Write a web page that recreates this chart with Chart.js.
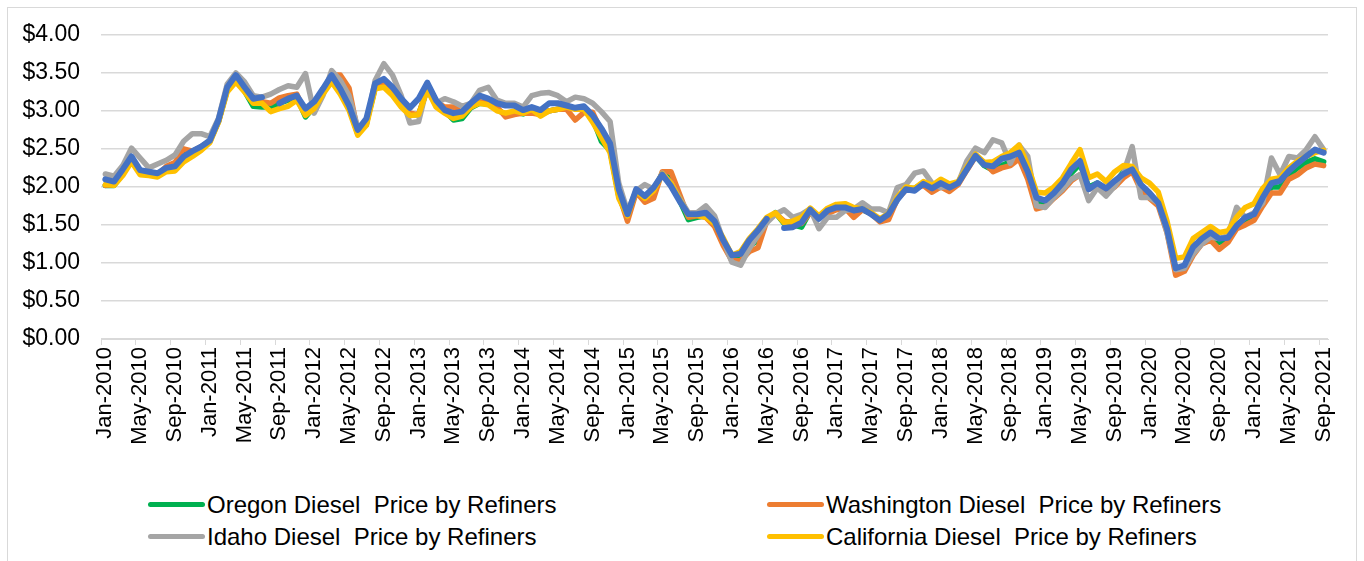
<!DOCTYPE html>
<html>
<head>
<meta charset="utf-8">
<script src="https://cdn.jsdelivr.net/npm/chart.js@4.4.1/dist/chart.umd.min.js"></script>
<style>
  body { margin: 0; background: #fff; font-family: "Liberation Sans", Arial, sans-serif; }
  #frame { position: absolute; left: 7px; top: 7px; width: 1350px; height: 560px; border: 1px solid #d9d9d9; box-sizing: border-box; }
  #wrap { position: absolute; left: 0; top: 0; width: 1364px; height: 480px; }
  #legend { position: absolute; left: 0; top: 0; }
  .item { position: absolute; height: 30px; line-height: 30px; font-size: 24px; color: #000; white-space: pre; }
  .swatch { position: absolute; left: 0; top: 12px; width: 57px; height: 5px; border-radius: 3px; }
  .item span { position: absolute; left: 59px; top: 0; }
</style>
</head>
<body>
<div id="frame"></div>
<div id="wrap"><canvas id="chart" width="1364" height="480"></canvas></div>
<div id="legend"></div>
<script>
// Months Jan-2010 .. Sep-2021
const monthNames = ['Jan', 'Feb', 'Mar', 'Apr', 'May', 'Jun', 'Jul', 'Aug', 'Sep', 'Oct', 'Nov', 'Dec'];
const years = [2010, 2011, 2012, 2013, 2014, 2015, 2016, 2017, 2018, 2019, 2020, 2021];
const lastMonth = 'Sep-2021';

const months = [];
years.forEach(y => monthNames.forEach(m => months.push(m + '-' + y)));
months.length = months.indexOf(lastMonth) + 1;

const yTicks = [0, 0.5, 1, 1.5, 2, 2.5, 3, 3.5, 4];

// Diesel prices by refiners, $/gallon
const oregon = [
  2.02, 2.02, 2.17, 2.36, 2.18, 2.16, 2.15, 2.24, 2.28, 2.42, 2.45, 2.52,
  2.60, 2.86, 3.27, 3.40, 3.26, 3.06, 3.05, 3.05, 3.10, 3.14, 3.18, 2.92,
  3.05, 3.24, 3.42, 3.25, 3.05, 2.70, 2.84, 3.30, 3.35, 3.22, 3.08, 2.95,
  2.95, 3.29, 3.07, 3.00, 2.88, 2.90, 3.04, 3.10, 3.09, 3.02, 2.95, 2.98,
  2.96, 3.00, 2.95, 3.00, 3.02, 3.06, 3.03, 3.04, 2.90, 2.60, 2.48, 1.88,
  1.60, 1.95, 1.83, 1.93, 2.18, 2.10, 1.82, 1.57, 1.60, 1.62, 1.50, 1.27,
  1.05, 1.08, 1.22, 1.30, 1.55, 1.66, 1.52, 1.50, 1.47, 1.68, 1.60, 1.70,
  1.74, 1.75, 1.65, 1.70, 1.65, 1.56, 1.62, 1.85, 1.98, 1.98, 2.05, 1.98,
  2.05, 1.98, 2.05, 2.24, 2.41, 2.28, 2.22, 2.28, 2.33, 2.42, 2.15, 1.80,
  1.80, 1.90, 2.02, 2.18, 2.30, 2.00, 2.05, 1.97, 2.05, 2.20, 2.25, 2.00,
  1.88, 1.78, 1.43, 0.90, 0.94, 1.17, 1.28, 1.35, 1.27, 1.30, 1.47, 1.57,
  1.62, 1.82, 2.00, 2.00, 2.15, 2.25, 2.32, 2.37, 2.33
];
const washington = [
  2.02, 2.03, 2.18, 2.38, 2.18, 2.17, 2.16, 2.27, 2.32, 2.50, 2.47, 2.53,
  2.60, 2.86, 3.28, 3.42, 3.28, 3.12, 3.12, 3.10, 3.17, 3.20, 3.22, 2.96,
  3.08, 3.25, 3.47, 3.47, 3.30, 2.72, 2.86, 3.32, 3.38, 3.24, 3.12, 2.97,
  2.95, 3.30, 3.12, 3.05, 3.05, 2.98, 3.05, 3.12, 3.10, 3.05, 2.92, 2.95,
  2.97, 2.97, 2.95, 3.00, 3.02, 3.02, 2.88, 2.98, 2.98, 2.73, 2.50, 1.90,
  1.55, 1.93, 1.80, 1.85, 2.20, 2.20, 1.90, 1.60, 1.62, 1.60, 1.48, 1.23,
  1.03, 1.03, 1.15, 1.20, 1.55, 1.65, 1.55, 1.53, 1.52, 1.66, 1.60, 1.65,
  1.70, 1.72, 1.60, 1.70, 1.65, 1.54, 1.57, 1.84, 1.96, 1.98, 2.02, 1.93,
  2.00, 1.94, 2.03, 2.22, 2.40, 2.32, 2.20, 2.25, 2.28, 2.37, 2.10, 1.71,
  1.74, 1.85, 1.95, 2.08, 2.16, 1.97, 2.02, 1.93, 2.00, 2.12, 2.20, 1.96,
  1.85, 1.75, 1.40, 0.84, 0.89, 1.10, 1.25, 1.30, 1.18, 1.27, 1.45, 1.50,
  1.56, 1.75, 1.92, 1.92, 2.10, 2.16, 2.25, 2.30, 2.28
];
const idaho = [
  2.17, 2.14, 2.28, 2.51, 2.38, 2.25, 2.30, 2.35, 2.42, 2.60, 2.70, 2.70,
  2.66, 2.90, 3.35, 3.50, 3.38, 3.20, 3.18, 3.22, 3.28, 3.33, 3.31, 3.49,
  2.97, 3.20, 3.53, 3.40, 3.20, 2.78, 2.82, 3.40, 3.62, 3.47, 3.20, 2.84,
  2.86, 3.33, 3.10, 3.16, 3.12, 3.06, 3.10, 3.27, 3.31, 3.14, 3.10, 3.10,
  3.05, 3.20, 3.23, 3.24, 3.20, 3.12, 3.18, 3.16, 3.10, 2.99, 2.86, 2.05,
  1.68, 1.95, 2.03, 1.97, 2.18, 2.05, 1.85, 1.66, 1.66, 1.75, 1.62, 1.30,
  1.01, 0.97, 1.19, 1.36, 1.53, 1.64, 1.70, 1.60, 1.64, 1.71, 1.45, 1.60,
  1.60, 1.69, 1.71, 1.79, 1.71, 1.71, 1.66, 1.99, 2.03, 2.18, 2.21, 2.05,
  1.99, 2.01, 2.05, 2.34, 2.51, 2.45, 2.62, 2.58, 2.31, 2.55, 2.40, 1.75,
  1.73, 1.86, 1.97, 2.10, 2.16, 1.82, 1.99, 1.88, 2.01, 2.18, 2.53, 1.86,
  1.86, 1.79, 1.40, 0.91, 0.93, 1.12, 1.25, 1.34, 1.32, 1.36, 1.73, 1.60,
  1.66, 1.79, 2.38, 2.16, 2.40, 2.38, 2.49, 2.66, 2.49
];
const california = [
  2.03, 2.02, 2.15, 2.33, 2.16, 2.15, 2.13, 2.20, 2.21, 2.33, 2.40, 2.48,
  2.58, 2.85, 3.25, 3.38, 3.25, 3.10, 3.10, 2.99, 3.03, 3.06, 3.14, 2.94,
  3.03, 3.22, 3.38, 3.22, 3.01, 2.68, 2.81, 3.29, 3.31, 3.20, 3.05, 2.94,
  2.95, 3.28, 3.05, 2.97, 2.90, 2.93, 3.05, 3.10, 3.08, 3.00, 2.97, 3.00,
  2.97, 3.02, 2.93, 3.00, 3.02, 3.05, 3.02, 3.02, 2.85, 2.65, 2.45, 1.85,
  1.62, 1.95, 1.85, 1.95, 2.17, 2.05, 1.83, 1.63, 1.63, 1.60, 1.52, 1.33,
  1.10, 1.15, 1.32, 1.45, 1.60, 1.66, 1.53, 1.55, 1.60, 1.72, 1.62, 1.72,
  1.77, 1.78, 1.73, 1.71, 1.66, 1.58, 1.65, 1.86, 2.00, 1.98, 2.07, 2.02,
  2.10, 2.04, 2.07, 2.26, 2.43, 2.32, 2.33, 2.40, 2.45, 2.55, 2.28, 1.93,
  1.92, 2.00, 2.12, 2.31, 2.49, 2.12, 2.17, 2.07, 2.20, 2.28, 2.27, 2.12,
  2.05, 1.93, 1.55, 1.06, 1.08, 1.32, 1.40, 1.48, 1.40, 1.42, 1.60, 1.73,
  1.78, 1.98, 2.10, 2.12, 2.25, 2.34, 2.40, 2.45, 2.48
];
// Blue series, not named in the legend (gaps in Aug-2011 and Jun-2016)
const blueSeries = [
  2.10, 2.07, 2.23, 2.40, 2.22, 2.20, 2.18, 2.25, 2.27, 2.40, 2.47, 2.53,
  2.61, 2.88, 3.31, 3.47, 3.31, 3.16, 3.18, null, 3.10, 3.16, 3.20, 3.03,
  3.12, 3.29, 3.47, 3.29, 3.07, 2.75, 2.90, 3.36, 3.42, 3.31, 3.16, 3.04,
  3.16, 3.37, 3.14, 3.01, 2.97, 2.99, 3.10, 3.20, 3.16, 3.10, 3.07, 3.07,
  3.01, 3.05, 3.01, 3.10, 3.10, 3.07, 3.04, 3.06, 2.94, 2.77, 2.57, 1.97,
  1.64, 1.97, 1.88, 1.99, 2.16, 2.01, 1.81, 1.64, 1.64, 1.66, 1.55, 1.30,
  1.10, 1.12, 1.30, 1.43, 1.58, null, 1.46, 1.47, 1.53, 1.70, 1.58, 1.69,
  1.73, 1.73, 1.69, 1.71, 1.64, 1.56, 1.64, 1.83, 1.97, 1.95, 2.04, 1.98,
  2.05, 1.99, 2.05, 2.23, 2.41, 2.29, 2.27, 2.37, 2.40, 2.45, 2.20, 1.86,
  1.82, 1.92, 2.05, 2.23, 2.34, 1.97, 2.05, 1.98, 2.08, 2.17, 2.23, 2.03,
  1.92, 1.79, 1.45, 0.93, 0.97, 1.21, 1.32, 1.40, 1.32, 1.33, 1.49, 1.60,
  1.64, 1.86, 2.05, 2.08, 2.21, 2.31, 2.40, 2.49, 2.45
];

const FONT = '"Liberation Sans", Arial, sans-serif';

function lineSet(label, data, color, order, width) {
    return {
        label: label,
        data: data,
        borderColor: color,
        backgroundColor: color,
        borderWidth: width,
        pointRadius: 0,
        pointHoverRadius: 0,
        tension: 0,
        borderJoinStyle: 'round',
        borderCapStyle: 'round',
        spanGaps: false,
        order: order
    };
}

const datasets = [
    lineSet('Oregon Diesel  Price by Refiners', oregon, '#00b050', 4, 5.5),
    lineSet('Washington Diesel  Price by Refiners', washington, '#ed7d31', 3, 5.5),
    lineSet('Idaho Diesel  Price by Refiners', idaho, '#a5a5a5', 2, 5.5),
    lineSet('California Diesel  Price by Refiners', california, '#ffc000', 1, 5.5),
    lineSet('Average', blueSeries, '#4472c4', 0, 6)
];

const ctx = document.getElementById('chart').getContext('2d');
const chart = new Chart(ctx, {
    type: 'line',
    data: { labels: months, datasets: datasets },
    options: {
        responsive: false,
        animation: false,
        layout: { padding: { top: 29, right: 36, bottom: 0, left: 0 } },
        plugins: {
            legend: { display: false },
            tooltip: { enabled: false }
        },
        scales: {
            x: {
                type: 'category',
                offset: true,
                afterFit: s => { s.height = 480 - 339; },
                border: { display: true, color: '#d9d9d9', width: 1 },
                grid: {
                    offset: true,
                    drawOnChartArea: false,
                    drawTicks: true,
                    tickLength: 6,
                    color: c => (c.index % 4 === 0 ? '#d9d9d9' : 'rgba(0,0,0,0)')
                },
                ticks: {
                    autoSkip: false,
                    maxRotation: 90,
                    minRotation: 90,
                    padding: 2,
                    color: '#000',
                    font: { family: FONT, size: 22 },
                    callback: function (val, i) { return i % 4 === 0 ? this.getLabelForValue(val) : ''; }
                }
            },
            y: {
                min: 0,
                max: 4,
                afterFit: s => { s.width = 101; },
                afterBuildTicks: s => { s.ticks = yTicks.map(v => ({ value: v })); },
                border: { display: false },
                grid: { color: '#d9d9d9', lineWidth: 1.5, drawTicks: false },
                ticks: {
                    padding: 21,
                    color: '#000',
                    font: { family: FONT, size: 23 },
                    callback: v => '$' + Number(v).toFixed(2)
                }
            }
        }
    }
});

// Legend in two columns, like the original
const legendSpots = [
    { set: 0, x: 148, y: 490 },
    { set: 1, x: 767, y: 490 },
    { set: 2, x: 148, y: 522 },
    { set: 3, x: 767, y: 522 }
];
const legendBox = document.getElementById('legend');
legendSpots.forEach(spot => {
    const ds = chart.data.datasets[spot.set];
    const item = document.createElement('div');
    item.className = 'item';
    item.style.left = spot.x + 'px';
    item.style.top = spot.y + 'px';
    const sw = document.createElement('div');
    sw.className = 'swatch';
    sw.style.background = ds.borderColor;
    const txt = document.createElement('span');
    txt.textContent = ds.label;
    item.appendChild(sw);
    item.appendChild(txt);
    legendBox.appendChild(item);
});
</script>
</body>
</html>
